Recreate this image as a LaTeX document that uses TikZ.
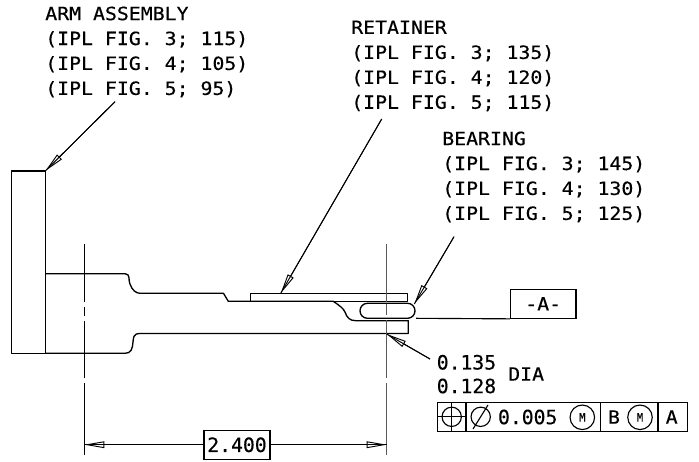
\documentclass[tikz,border=0pt]{standalone}
\usepackage{fontspec}
\setmainfont{DejaVu Sans Mono}
\newfontfamily\labfont{DejaVu Sans Mono}[FakeStretch=1.09,FakeBold=0.35]
\newfontfamily\bigfont{DejaVu Sans Mono}[FakeBold=0.35]
\newfontfamily\tinyfont{DejaVu Sans Mono}[FakeStretch=0.9,FakeBold=0.25]
\usetikzlibrary{arrows.meta}
\tikzset{
 line/.style={line width=1pt,black,line join=round},
 thin line/.style={line width=0.85pt,black},
 leader/.style={line width=0.7pt,black,-{Triangle[open,fill=white,length=15pt,width=5pt]},postaction={draw,arrows=-}},
 dimline/.style={line width=0.7pt,black,{Triangle[open,fill=white,length=15pt,width=5pt]}-{Triangle[open,fill=white,length=15pt,width=5pt]},postaction={draw,arrows=-}},
 label/.style={anchor=west,inner sep=0pt,align=left,font=\labfont\fontsize{13.65pt}{18.7pt}\selectfont},
 big/.style={inner sep=0pt,font=\bigfont\fontsize{14.8pt}{18pt}\selectfont},
 mid/.style={inner sep=0pt,font=\labfont\fontsize{13.65pt}{16pt}\selectfont},
 mcircle/.style={circle,draw,line width=0.85pt,minimum size=18.4pt,inner sep=0pt,font=\tinyfont\fontsize{8.8pt}{10pt}\selectfont},
 boxed/.style={draw,thin line,fill=white,inner sep=0pt,font=\bigfont\fontsize{14.8pt}{18pt}\selectfont}
}
\begin{document}
\begin{tikzpicture}[x=0.75pt,y=-0.75pt]
\useasboundingbox (0,0) rectangle (699,461);
% part
\draw[line] (11.3,171) rectangle (45.3,353.3);
\draw[line] (45.3,273.7) -- (125,273.7) .. controls (131,273.7) and (128,281) .. (130,284) .. controls (132,290) and (136,293.3) .. (140,293.3) -- (223.5,293.3) -- (228.3,301.3) -- (333.3,301.3) .. controls (340,306) and (343,308) .. (345,312) .. controls (347,318) and (350,320.7) .. (356,320.7) -- (408.3,320.7) -- (408.3,333.5) -- (140,333.5) .. controls (133,333.5) and (133.5,338) .. (133,342) .. controls (132.5,349) and (131,353.3) .. (125,353.3) -- (45.3,353.3);
\draw[line] (250.7,293.3) rectangle (407.7,301.3);
\draw[line,rounded corners=5.6pt,fill=white] (360,303.3) rectangle (415,318.3);
% centre lines
\draw[line] (84.3,244) -- (84.3,301.7) (84.3,306.7) -- (84.3,316) (84.3,321) -- (84.3,377.7) (84.3,383.3) -- (84.3,455);
\draw[line,gray!70!black] (386.7,244) -- (386.7,301.7) (386.7,304) -- (386.7,315) (386.7,320) -- (386.7,377.7) (386.7,383.3) -- (386.7,455);
% labels
\node[label] (arm) at (45,52) {ARM ASSEMBLY\\(IPL FIG. 3; 115)\\(IPL FIG. 4; 105)\\(IPL FIG. 5; 95)};
\node[label] (ret) at (351,66) {RETAINER\\(IPL FIG. 3; 135)\\(IPL FIG. 4; 120)\\(IPL FIG. 5; 115)};
\node[label] (bear) at (442,177) {BEARING\\(IPL FIG. 3; 145)\\(IPL FIG. 4; 130)\\(IPL FIG. 5; 125)};
% leaders
\coordinate (armfrom) at (115,101.7);
\coordinate (armtip) at (45.3,171);
\coordinate (retfrom) at (381.7,119);
\coordinate (rettip) at (280.7,293.3);
\coordinate (bearfrom) at (454,236.7);
\coordinate (beartip) at (414.3,304);
\coordinate (holefrom) at (430,359);
\coordinate (holetip) at (386.7,334);
\draw[leader] (armfrom) -- (armtip);
\draw[leader] (retfrom) -- (rettip);
\draw[leader] (bearfrom) -- (beartip);
\draw[leader] (holefrom) -- (holetip);
% dimension
\coordinate (dimL) at (84.3,444.7);
\coordinate (dimR) at (386.7,444.7);
\draw[dimline] (dimL) -- (dimR);
\node[boxed,minimum width=49.5pt,minimum height=21.7pt] (dim) at (237,444.8) {2.400};
% datum
\node[draw,thin line,inner sep=0pt,minimum width=49.2pt,minimum height=21.7pt,font=\labfont\fontsize{13.65pt}{16pt}\selectfont] (datum) at (543.2,303.8) {-A-};
\coordinate (datumfrom) at (416,318.3);
\draw[thin line] (datumfrom) -- (datum.south west);
% tolerances
\node[big,anchor=west] (tolhi) at (436.5,362.3) {0.135};
\node[big,anchor=west] (tollo) at (436.5,386) {0.128};
\node[mid,anchor=west] (dia) at (508,374) {DIA};
% feature control frame
\node[draw,thin line,minimum width=187.5pt,minimum height=21.7pt,inner sep=0pt] (fcf) at (562.3,416.8) {};
\draw[thin line] (466,402.3) -- (466,431.3) (600.3,402.3) -- (600.3,431.3) (658,402.3) -- (658,431.3);
\node[circle,draw,thin line,minimum size=14.5pt,inner sep=0pt] (pos) at (451.7,416.8) {};
\draw[thin line] (437.3,416.8) -- (466,416.8) (451.7,402.3) -- (451.7,431.3);
\node[circle,draw,thin line,minimum size=14.5pt,inner sep=0pt] (diam) at (480.7,416.8) {};
\draw[thin line] (473,429) -- (488,405);
\node[big] (val) at (527.7,417) {0.005};
\node[mcircle] (m1) at (582.3,417.3) {M};
\node[mid] (b) at (614,417) {B};
\node[mcircle] (m2) at (640,417.3) {M};
\node[mid] (a) at (671.7,417) {A};
\end{tikzpicture}
\end{document}
